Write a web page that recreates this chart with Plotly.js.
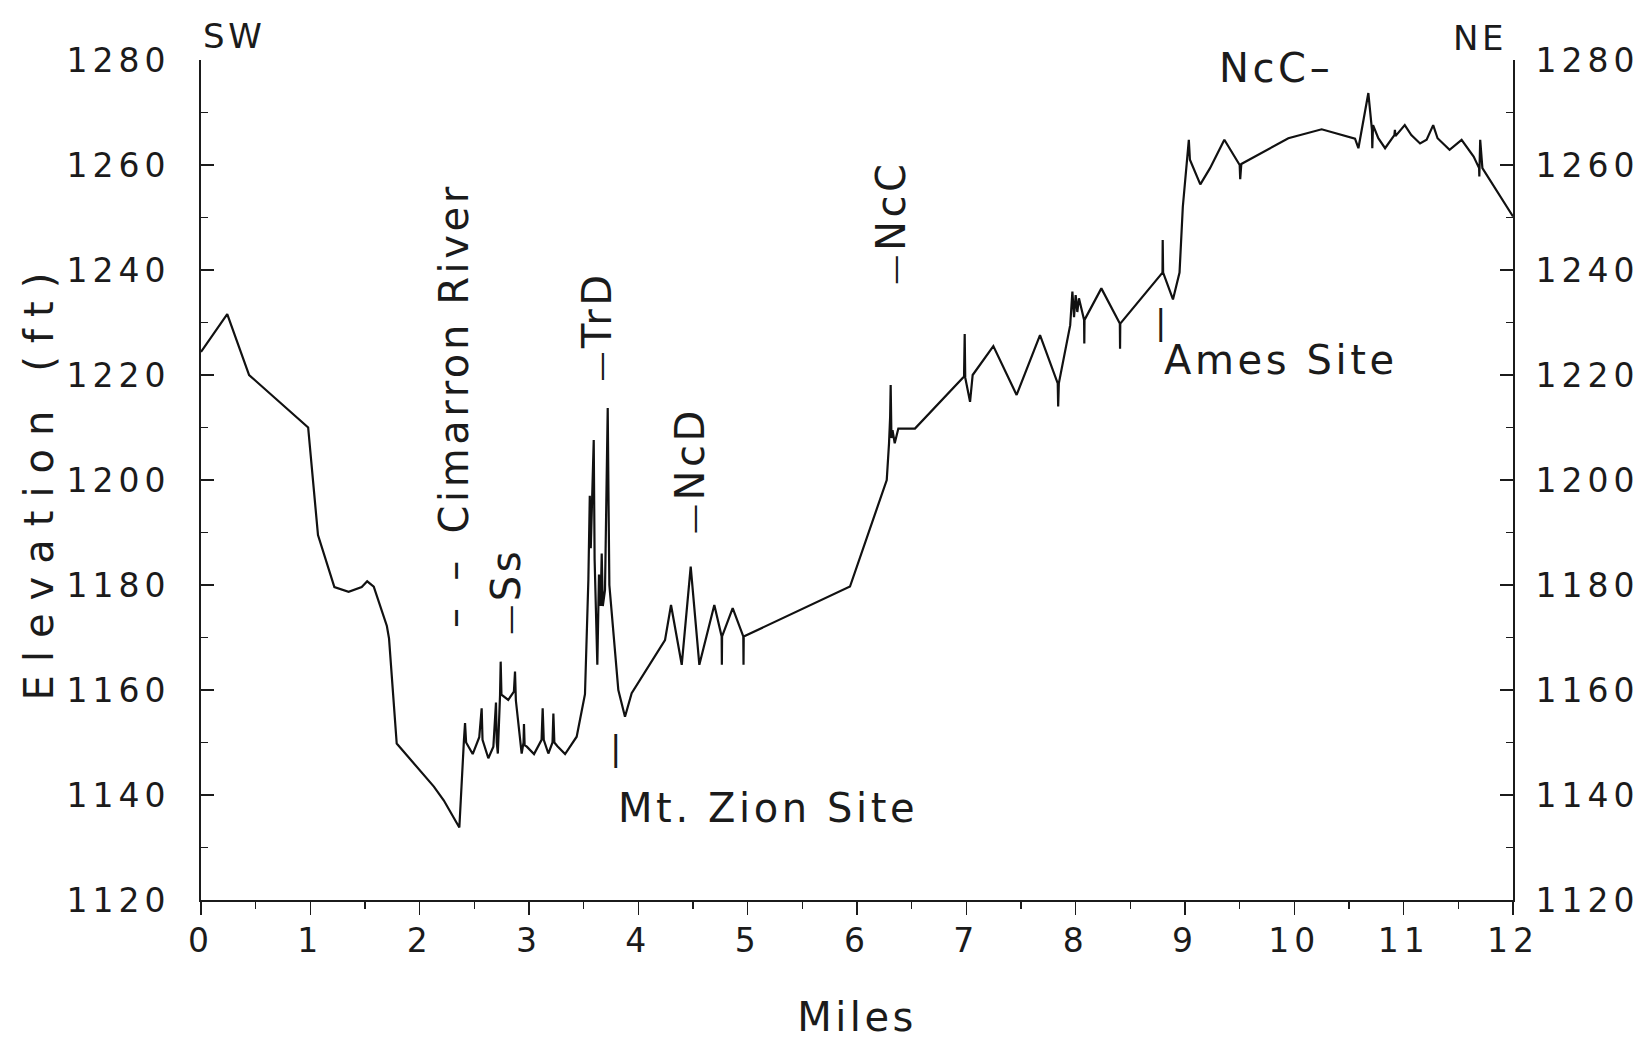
<!DOCTYPE html>
<html>
<head>
<meta charset="utf-8">
<script src="https://cdn.plot.ly/plotly-3.0.1.min.js"></script>
<style>
  html, body { margin: 0; padding: 0; background: #fff; }
  #profile { width: 1641px; height: 1041px; }
  /* wide, open lettering throughout (class selectors so text measurement sees it too) */
  .xtick text, .ytick text, .y2tick text { letter-spacing: 5px; }
  text.ytitle { letter-spacing: 13px; }
  text.xtitle { letter-spacing: 3.5px; }
  text.annotation-text { letter-spacing: 3.6px; }
</style>
</head>
<body>
<div id="profile"></div>
<script>
// Surface profile along the traverse, SW (left) to NE (right)
const miles = [
  0.00, 0.24, 0.44, 0.98, 1.07, 1.22, 1.35, 1.47, 1.52, 1.58, 1.70, 1.72, 1.79, 2.13, 2.22, 2.363,
  2.405, 2.415, 2.425, 2.485, 2.545, 2.567, 2.575, 2.628, 2.674, 2.698, 2.705, 2.715, 2.735, 2.741, 2.748,
  2.81, 2.862, 2.872, 2.88, 2.933, 2.95, 2.954, 2.96, 2.98, 3.046, 3.115, 3.125, 3.135, 3.177, 3.215, 3.223,
  3.232, 3.26, 3.33, 3.436, 3.512, 3.543, 3.556, 3.565, 3.575, 3.592, 3.60, 3.625, 3.64, 3.655, 3.665, 3.675,
  3.695, 3.71, 3.72, 3.728, 3.735, 3.817, 3.878, 3.939, 4.244, 4.299, 4.397, 4.479, 4.558, 4.695, 4.762,
  4.764, 4.766, 4.863, 4.96, 4.962, 4.964, 5.936, 6.272, 6.293, 6.303, 6.308, 6.315, 6.325, 6.345, 6.378,
  6.53, 6.979, 6.985, 6.99, 7.034, 7.058, 7.247, 7.46, 7.674, 7.836, 7.84, 7.846, 7.95, 7.97, 7.985, 8.00,
  8.015, 8.03, 8.077, 8.079, 8.081, 8.235, 8.404, 8.406, 8.408, 8.794, 8.796, 8.80, 8.89, 8.95, 8.98, 9.016,
  9.035, 9.045, 9.14, 9.229, 9.36, 9.50, 9.505, 9.515, 9.945, 10.25, 10.555, 10.586, 10.677, 10.71, 10.713,
  10.72, 10.768, 10.83, 10.915, 10.92, 10.925, 11.01, 11.07, 11.15, 11.21, 11.27, 11.31, 11.42, 11.53, 11.64,
  11.69, 11.692, 11.70, 11.72, 12.00
];
const elevationFt = [
  1224.4, 1231.6, 1220.0, 1210.0, 1189.5, 1179.6, 1178.7, 1179.6, 1180.7, 1179.7, 1172.2, 1169.8, 1149.8, 1141.6, 1139.0, 1133.8,
  1150.5, 1153.7, 1150.0, 1147.8, 1151.0, 1156.5, 1150.5, 1147.0, 1149.2, 1157.6, 1150.0, 1147.9, 1159.0, 1165.4, 1159.1,
  1158.1, 1159.7, 1163.5, 1158.0, 1147.9, 1150.0, 1153.5, 1149.5, 1149.2, 1147.8, 1150.5, 1156.5, 1150.5, 1147.9, 1150.0, 1155.5,
  1150.0, 1149.3, 1147.8, 1151.1, 1159.2, 1181.0, 1197.0, 1187.0, 1195.0, 1207.6, 1185.0, 1164.8, 1182.0, 1176.0, 1186.0, 1176.0,
  1179.0, 1204.0, 1213.7, 1195.0, 1180.0, 1160.0, 1154.9, 1159.4, 1169.5, 1176.2, 1164.8, 1183.5, 1164.8, 1176.2, 1170.2,
  1164.8, 1170.2, 1175.6, 1170.2, 1164.8, 1170.2, 1179.7, 1200.0, 1207.0, 1212.0, 1218.1, 1208.0, 1209.5, 1207.0, 1209.8,
  1209.8, 1219.7, 1227.8, 1219.5, 1214.9, 1220.0, 1225.5, 1216.2, 1227.6, 1218.4, 1214.0, 1218.4, 1229.5, 1235.9, 1231.0, 1235.2,
  1232.0, 1234.6, 1230.5, 1226.0, 1230.5, 1236.5, 1229.8, 1225.0, 1229.8, 1239.5, 1245.7, 1239.5, 1234.4, 1239.5, 1252.0, 1260.9,
  1264.8, 1261.0, 1256.3, 1259.4, 1264.8, 1260.0, 1257.3, 1260.2, 1265.1, 1266.8, 1265.0, 1263.2, 1273.7, 1266.7, 1263.2,
  1267.6, 1265.1, 1263.2, 1265.7, 1266.7, 1265.5, 1267.6, 1265.7, 1264.1, 1264.8, 1267.6, 1265.1, 1262.9, 1264.8, 1261.6,
  1259.4, 1257.8, 1264.8, 1259.4, 1250.2
];

// Axis ticks
const elevationTicks = [1120, 1140, 1160, 1180, 1200, 1220, 1240, 1260, 1280];
const mileTicks = [0, 1, 2, 3, 4, 5, 6, 7, 8, 9, 10, 11, 12];

// Feature labels along the profile (read upward, with a leading dash pointing at the feature)
const DASH = '<span style="font-size:30px">\u2014</span>';
const verticalLabels = ['\u2013\u2002\u2013\u2002Cimarron River', DASH + 'Ss', DASH + 'TrD', DASH + 'NcD', DASH + 'NcC'];
const verticalLabelMiles = [2.314, 2.79, 3.62, 4.473, 6.31];
const verticalLabelFt = [1214.1, 1178.7, 1229.2, 1201.7, 1249.0];

const siteLabels = ['Mt. Zion Site', 'Ames Site'];
const siteLabelMiles = [3.795, 8.79];
const siteLabelFt = [1137.5, 1222.9];
const siteMarkMiles = [3.805, 8.79];
const siteMarkFt = [1149.0, 1230.1];

const FONT = 'DejaVu Sans, Liberation Sans, sans-serif';
const INK = '#1b1b1b';

const annotations = [];
verticalLabels.forEach((t, i) => {
  annotations.push({
    text: t, x: verticalLabelMiles[i], y: verticalLabelFt[i], xref: 'x', yref: 'y',
    textangle: -90, showarrow: false, xanchor: 'center', yanchor: 'middle',
    font: { family: FONT, size: 40, color: INK }
  });
});
siteLabels.forEach((t, i) => {
  annotations.push({
    text: t, x: siteLabelMiles[i], y: siteLabelFt[i], xref: 'x', yref: 'y',
    showarrow: false, xanchor: 'left', yanchor: 'middle',
    font: { family: FONT, size: 40, color: INK }
  });
  annotations.push({
    text: '|', x: siteMarkMiles[i], y: siteMarkFt[i], xref: 'x', yref: 'y',
    showarrow: false, xanchor: 'center', yanchor: 'middle',
    font: { family: FONT, size: 34, color: INK }
  });
});
annotations.push({
  text: 'NcC\u2013', x: 9.29, y: 1278.5, xref: 'x', yref: 'y', showarrow: false,
  xanchor: 'left', yanchor: 'middle', font: { family: FONT, size: 40, color: INK }
});
// Compass ends of the traverse, just above the frame
annotations.push({
  text: 'SW', x: 0.0, y: 1.029, xref: 'paper', yref: 'paper', showarrow: false,
  xanchor: 'left', yanchor: 'middle', font: { family: FONT, size: 34, color: INK }
});
annotations.push({
  text: 'NE', x: 0.997, y: 1.026, xref: 'paper', yref: 'paper', showarrow: false,
  xanchor: 'right', yanchor: 'middle', font: { family: FONT, size: 34, color: INK }
});

const profile = {
  x: miles, y: elevationFt, type: 'scatter', mode: 'lines',
  line: { color: '#111', width: 2.2 }, hoverinfo: 'x+y', showlegend: false
};
// same series bound to the right-hand elevation axis (transparent, so the axis is drawn)
const profileRight = {
  x: miles, y: elevationFt, type: 'scatter', mode: 'lines', yaxis: 'y2',
  line: { color: 'rgba(0,0,0,0)', width: 0 }, hoverinfo: 'skip', showlegend: false
};

const yCommon = {
  range: [1120, 1280], tickvals: elevationTicks, ticktext: elevationTicks.map(String),
  ticks: 'inside', ticklen: 13, tickwidth: 1.6, tickcolor: INK,
  minor: { dtick: 10, tick0: 1120, ticks: 'inside', ticklen: 7, tickwidth: 1.6, tickcolor: INK, showgrid: false },
  showline: true, linecolor: INK, linewidth: 2, showgrid: false, zeroline: false,
  tickfont: { family: FONT, size: 33, color: INK }
};

const layout = {
  width: 1641, height: 1041,
  margin: { l: 201, r: 128, t: 60, b: 141 },
  paper_bgcolor: '#fff', plot_bgcolor: '#fff',
  showlegend: false,
  xaxis: {
    range: [0, 12], tickvals: mileTicks, ticktext: mileTicks.map(String),
    ticks: 'outside', ticklen: 13, tickwidth: 1.6, tickcolor: INK,
    minor: { dtick: 0.5, tick0: 0, ticks: 'outside', ticklen: 7, tickwidth: 1.6, tickcolor: INK, showgrid: false },
    showline: true, linecolor: INK, linewidth: 2, showgrid: false, zeroline: false,
    tickfont: { family: FONT, size: 33, color: INK },
    ticklabelstandoff: -3,
    title: { text: 'Miles', font: { family: FONT, size: 40, color: INK }, standoff: 44 }
  },
  yaxis: Object.assign({}, yCommon, {
    side: 'left', ticklabelstandoff: 22,
    title: { text: 'Elevation (ft)', font: { family: FONT, size: 40, color: INK }, standoff: 0 }
  }),
  yaxis2: Object.assign({}, yCommon, {
    side: 'right', overlaying: 'y', anchor: 'x', ticklabelstandoff: 14
  }),
  annotations: annotations
};

Plotly.newPlot('profile', [profile, profileRight], layout, { displayModeBar: false, staticPlot: true });
</script>
</body>
</html>
